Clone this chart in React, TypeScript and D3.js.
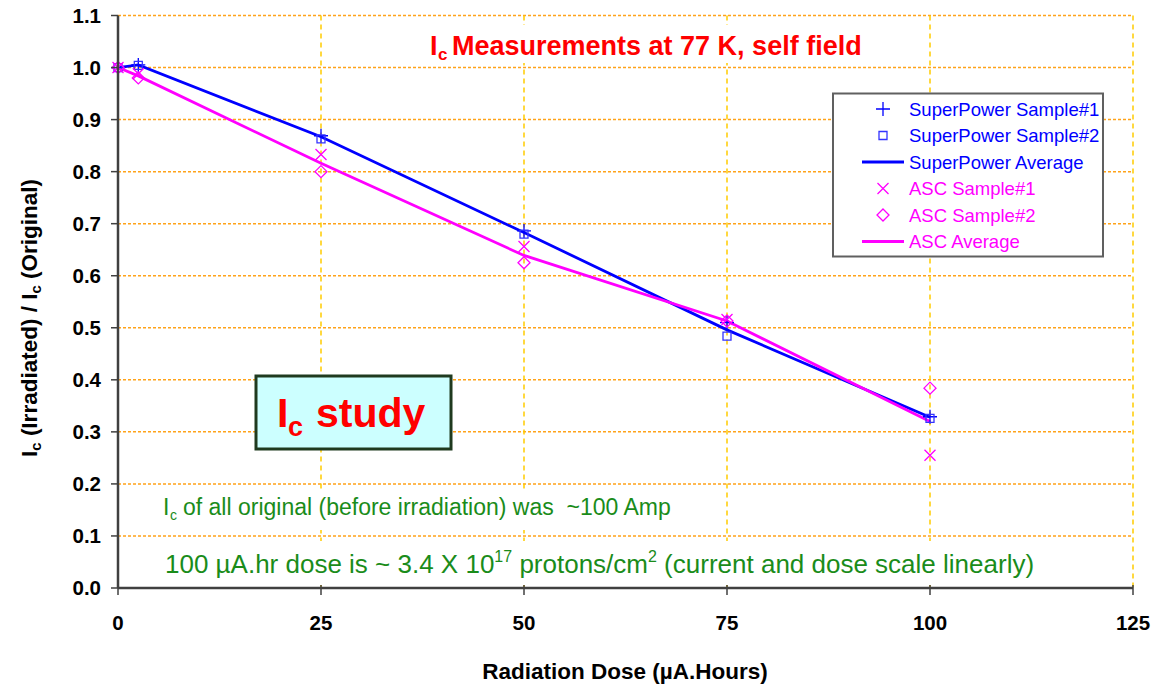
import { useEffect } from "react";
import * as d3 from "d3";

// data
const doses = [0, 2.5, 25, 50, 75, 100];
const spSample1 = [1.0, 1.005, 0.869, 0.686, 0.51, 0.329];
const spSample2 = [1.0, 1.004, 0.863, 0.68, 0.484, 0.326];
const spAverage = [1.0, 1.005, 0.867, 0.683, 0.496, 0.328];
const ascSample1 = [1.0, 0.988, 0.833, 0.656, 0.516, 0.255];
const ascSample2 = [1.0, 0.98, 0.8, 0.625, 0.513, 0.384];
const ascAverage = [1.0, 0.984, 0.816, 0.639, 0.513, 0.32];

const xTicks = [0, 25, 50, 75, 100, 125];
const yTicks = [0, 0.1, 0.2, 0.3, 0.4, 0.5, 0.6, 0.7, 0.8, 0.9, 1.0, 1.1];

const BLUE = "#0000ff";
const MAGENTA = "#ff00ff";
const GREEN = "#1a8c1a";
const FONT = "'Liberation Sans', Arial, sans-serif";

const legendItems = [
  { label: "SuperPower Sample#1", color: BLUE, kind: "plus" },
  { label: "SuperPower Sample#2", color: BLUE, kind: "square" },
  { label: "SuperPower Average", color: BLUE, kind: "line" },
  { label: "ASC Sample#1", color: MAGENTA, kind: "times" },
  { label: "ASC Sample#2", color: MAGENTA, kind: "diamond" },
  { label: "ASC Average", color: MAGENTA, kind: "line" },
];

function marker(kind: string, cx: number, cy: number) {
  if (kind === "plus") return `M${cx - 7},${cy}H${cx + 7}M${cx},${cy - 7}V${cy + 7}`;
  if (kind === "square") return `M${cx - 4},${cy - 4}h8v8h-8Z`;
  if (kind === "times") return `M${cx - 5.5},${cy - 5.5}L${cx + 5.5},${cy + 5.5}M${cx - 5.5},${cy + 5.5}L${cx + 5.5},${cy - 5.5}`;
  if (kind === "diamond") return `M${cx},${cy - 6}L${cx + 6},${cy}L${cx},${cy + 6}L${cx - 6},${cy}Z`;
  return "";
}

export default function App() {
  useEffect(() => {
    document.body.style.margin = "0";
  }, []);

  const width = 1155;
  const height = 686;
  const x = d3.scaleLinear().domain([0, 125]).range([118, 1133]);
  const y = d3.scaleLinear().domain([0, 1.1]).range([588, 15.5]);

  const line = d3
    .line<number>()
    .x((_, i) => x(doses[i]))
    .y((d) => y(d));

  const samples = [
    { values: spSample1, kind: "plus", color: BLUE },
    { values: spSample2, kind: "square", color: "#3333ff" },
    { values: ascSample1, kind: "times", color: MAGENTA },
    { values: ascSample2, kind: "diamond", color: MAGENTA },
  ];

  return (
    <svg width={width} height={height} style={{ display: "block", background: "#fff" }} fontFamily={FONT}>
      {/* grid */}
      {yTicks.slice(1).map((t) => (
        <line key={"hy" + t} x1={x(0)} x2={x(125)} y1={y(t)} y2={y(t)} stroke="#ffa31a" strokeWidth={1.5} strokeDasharray="3,2" />
      ))}
      {xTicks.slice(1).map((t) => (
        <line key={"vx" + t} x1={x(t)} x2={x(t)} y1={y(1.1)} y2={y(0)} stroke="#ffcc00" strokeWidth={1.5} strokeDasharray="5,4" />
      ))}

      {/* title */}
      <rect x={415} y={25} width={455} height={38} fill="#fff" />
      <text x={430} y={55} fill="#ff0000" fontWeight="bold" fontSize={27}>I</text>
      <text x={438} y={60} fill="#ff0000" fontWeight="bold" fontSize={17}>c</text>
      <text x={452} y={55} fill="#ff0000" fontWeight="bold" fontSize={27}>Measurements at 77 K, self field</text>

      {/* notes */}
      <rect x={150} y={490} width={540} height={40} fill="#fff" />
      <text x={163} y={515} fill={GREEN} fontSize={23}>I</text>
      <text x={170} y={520} fill={GREEN} fontSize={14}>c</text>
      <text x={183} y={515} fill={GREEN} fontSize={23} style={{ whiteSpace: "pre" }}>of all original (before irradiation) was  ~100 Amp</text>

      <rect x={150} y={541} width={905} height={44} fill="#fff" />
      <text x={165} y={573} fill={GREEN} fontSize={26}>
        100 µA.hr dose is ~ 3.4 X 10
        <tspan fontSize={16} dy={-11}>17</tspan>
        <tspan dy={11}> protons/cm</tspan>
        <tspan fontSize={16} dy={-11}>2</tspan>
        <tspan dy={11}> (current and dose scale linearly)</tspan>
      </text>

      {/* Ic study box */}
      <rect x={256} y={376} width={195} height={73} fill="#ccffff" stroke="#1f3a1f" strokeWidth={3} />
      <text x={277} y={427} fill="#ff0000" fontWeight="bold" fontSize={41}>I</text>
      <text x={288} y={436} fill="#ff0000" fontWeight="bold" fontSize={27}>c</text>
      <text x={316} y={427} fill="#ff0000" fontWeight="bold" fontSize={41}>study</text>

      {/* series lines */}
      <path d={line(spAverage) || ""} fill="none" stroke={BLUE} strokeWidth={2.8} />
      <path d={line(ascAverage) || ""} fill="none" stroke={MAGENTA} strokeWidth={2.8} />

      {/* sample markers */}
      {samples.map((s) =>
        s.values.map((v, i) => (
          <path key={s.kind + i} d={marker(s.kind, x(doses[i]), y(v))} fill="none" stroke={s.color} strokeWidth={1.3} />
        ))
      )}

      {/* axes */}
      <line x1={x(0)} x2={x(0)} y1={y(1.1)} y2={y(0)} stroke="#404040" strokeWidth={2.5} />
      <line x1={x(0)} x2={x(125)} y1={y(0)} y2={y(0)} stroke="#404040" strokeWidth={2.5} />
      {yTicks.map((t) => (
        <g key={"yt" + t}>
          <line x1={x(0) - 7} x2={x(0)} y1={y(t)} y2={y(t)} stroke="#404040" strokeWidth={1.5} />
          <text x={101} y={y(t) + 7} textAnchor="end" fontWeight="bold" fontSize={20.5} fill="#000">
            {t.toFixed(1)}
          </text>
        </g>
      ))}
      {xTicks.map((t) => (
        <g key={"xt" + t}>
          <line x1={x(t)} x2={x(t)} y1={y(0) - 3} y2={y(0) + 7} stroke="#404040" strokeWidth={1.5} />
          <text x={x(t)} y={630} textAnchor="middle" fontWeight="bold" fontSize={20.5} fill="#000">
            {t}
          </text>
        </g>
      ))}

      {/* axis titles */}
      <text x={625} y={679} textAnchor="middle" fontWeight="bold" fontSize={22.5} fill="#000">
        Radiation Dose (µA.Hours)
      </text>
      <text transform="translate(37,318) rotate(-90)" textAnchor="middle" fontWeight="bold" fontSize={22.5} fill="#000">
        I<tspan fontSize={15} dy={4}>c</tspan>
        <tspan dy={-4}> (Irradiated) / I</tspan>
        <tspan fontSize={15} dy={4}>c</tspan>
        <tspan dy={-4}> (Original)</tspan>
      </text>

      {/* legend */}
      <rect x={833} y={93.5} width={270} height={163} fill="#fff" stroke="#606060" strokeWidth={2} />
      {legendItems.map((it, i) => {
        const cy = 109 + i * 26.5;
        return (
          <g key={it.label}>
            {it.kind === "line" ? (
              <line x1={862} x2={904} y1={cy} y2={cy} stroke={it.color} strokeWidth={2.8} />
            ) : (
              <path d={marker(it.kind, 883, cy)} fill="none" stroke={it.kind === "square" ? "#3333ff" : it.color} strokeWidth={1.3} />
            )}
            <text x={909} y={cy + 6.5} fill={it.color} fontSize={18.5}>
              {it.label}
            </text>
          </g>
        );
      })}
    </svg>
  );
}
